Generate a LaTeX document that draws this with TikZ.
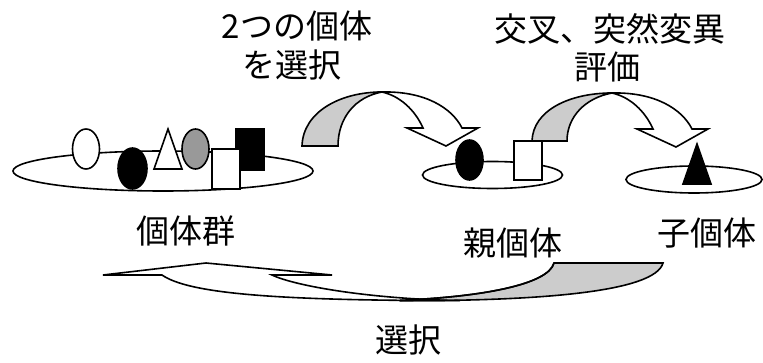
\documentclass[tikz,border=0pt]{standalone}
\usepackage{fontspec}
\setmainfont{Noto Sans CJK JP}
\usetikzlibrary{shapes.geometric}
\definecolor{lightg}{RGB}{204,204,204}
\definecolor{midg}{RGB}{153,153,153}
\tikzset{
  lbl/.style={inner sep=0pt, font=\fontsize{33}{38}\selectfont},
  outl/.style={draw=black, line width=1.6pt, line join=miter},
  band/.style={outl, fill=lightg},
  wband/.style={outl, fill=white},
}
\begin{document}
\begin{tikzpicture}[x=1pt,y=-1pt]
\useasboundingbox (0,0) rectangle (763,363);
% base ellipses
\draw[outl, fill=white] (163,171) ellipse [x radius=150, y radius=20];
\draw[outl, fill=white] (492.5,175) ellipse [x radius=70, y radius=13.5];
\draw[outl, fill=white] (694,179.5) ellipse [x radius=68, y radius=13.5];
% top curved arrow 1
\draw[band] (302,146) .. controls (303,112) and (340,92) .. (382,92)
   .. controls (355,97) and (338,118) .. (338,146) -- cycle;
\draw[wband] (382,92) .. controls (425,91) and (452,108) .. (462,128)
   -- (478,128) -- (446,146) -- (407,128) -- (423,128)
   .. controls (415,110) and (400,96) .. (382,92) -- cycle;
% top curved arrow 2
\draw[band] (532,141) .. controls (533,110) and (570,93) .. (612,93)
   .. controls (585,98) and (567,117) .. (567,141) -- cycle;
\draw[wband] (612,93) .. controls (655,92) and (682,109) .. (692,129)
   -- (708,129) -- (676,147) -- (637,129) -- (653,129)
   .. controls (645,111) and (630,97) .. (612,93) -- cycle;
% bottom curved arrow
\draw[band] (400,300.7) .. controls (540,301) and (655,292) .. (663,263)
   -- (554,263) .. controls (548,285) and (480,297) .. (400,300.3) -- cycle;
\draw[wband] (103,275) -- (206,263) -- (332,275) -- (272,275)
   .. controls (295,286) and (370,299) .. (460,300.6)
   .. controls (270,300.7) and (188,293) .. (162,275) -- cycle;
\draw[outl] (554,263) .. controls (548,285) and (480,297) .. (400,300.3);
% individuals in population
\node[outl, fill=white, ellipse, minimum width=27pt, minimum height=40pt, inner sep=0pt] (p1) at (86,149) {};
\node[outl, fill=black, ellipse, minimum width=29pt, minimum height=41pt, inner sep=0pt] (p2) at (132.5,168.5) {};
\draw[outl, fill=white] (168,129) -- (182,169) -- (154,169) -- cycle;
\node[outl, fill=midg, ellipse, minimum width=27pt, minimum height=40pt, inner sep=0pt] (p4) at (195.5,149) {};
\node[outl, fill=black, rectangle, minimum width=28pt, minimum height=41pt, inner sep=0pt] (p5) at (250,149.5) {};
\node[outl, fill=white, rectangle, minimum width=28pt, minimum height=40pt, inner sep=0pt] (p6) at (226,169) {};
% parents
\node[outl, fill=black, ellipse, minimum width=27pt, minimum height=40pt, inner sep=0pt] (q1) at (469.5,160) {};
\node[outl, fill=white, rectangle, minimum width=28pt, minimum height=39pt, inner sep=0pt] (q2) at (528,160.5) {};
% child
\draw[outl, fill=black] (697,144) -- (711,184) -- (683,184) -- cycle;
% labels
\node[lbl] (t1) at (297,26) {2つの個体};
\node[lbl] (t2) at (292,65) {を選択};
\node[lbl] (t3) at (610,29) {交叉、突然変異};
\node[lbl] (t4) at (607,67) {評価};
\node[lbl] (t5) at (186,231) {個体群};
\node[lbl] (t6) at (513,243) {親個体};
\node[lbl] (t7) at (707,233) {子個体};
\node[lbl] (t8) at (408,340) {選択};
\end{tikzpicture}
\end{document}
